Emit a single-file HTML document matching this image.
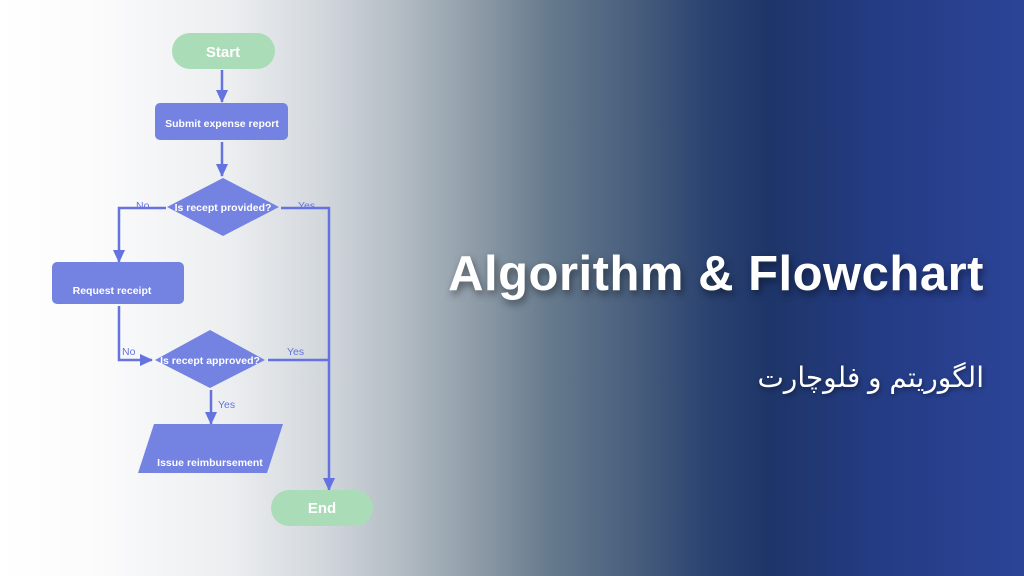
<!DOCTYPE html>
<html><head><meta charset="utf-8"><style>
html,body{margin:0;padding:0}
body{width:1024px;height:576px;overflow:hidden;position:relative;
background:linear-gradient(90deg,#ffffff 0px,#fbfbfc 100px,#eceef0 230px,#d3d8dd 320px,#b3bcc4 400px,#8c9aa6 480px,#667a8d 550px,#465c7b 640px,#2a4270 710px,#1e3569 770px,#243c84 880px,#2c4497 1024px);}
.t{position:absolute;left:0;top:0}
h1{position:absolute;right:40px;top:246px;margin:0;font:bold 49px "Liberation Sans",sans-serif;color:#fff;text-shadow:2px 4px 8px rgba(0,0,0,.45);letter-spacing:.5px}
.fa{position:absolute;right:40px;top:361px;font:500 28px "Liberation Sans","Noto Sans CJK SC","DejaVu Sans",sans-serif;color:#fff;direction:rtl;text-shadow:1px 2px 5px rgba(0,0,0,.4)}
</style></head><body>
<svg class="t" width="1024" height="576" viewBox="0 0 1024 576" font-family="Liberation Sans,sans-serif" font-weight="bold">
<defs><marker id="a" markerWidth="14" markerHeight="14" refX="12" refY="7" orient="auto" markerUnits="userSpaceOnUse"><path d="M0,1 L13,7 L0,13z" fill="#6473e0"/></marker></defs>
<g stroke="#6473e0" stroke-width="2.5" fill="none">
<line x1="222" y1="70" x2="222" y2="102" marker-end="url(#a)"/>
<line x1="222" y1="142" x2="222" y2="176" marker-end="url(#a)"/>
<polyline points="166,208 119,208 119,262" marker-end="url(#a)"/>
<polyline points="281,208 329,208 329,490" marker-end="url(#a)"/>
<polyline points="119,306 119,360 152,360" marker-end="url(#a)"/>
<line x1="268" y1="360" x2="329" y2="360"/>
<line x1="211" y1="390" x2="211" y2="424" marker-end="url(#a)"/>
</g>
<rect x="172" y="33" width="103" height="36" rx="18" fill="#aadcb8"/>
<text x="223" y="57" fill="#fff" font-size="15" text-anchor="middle">Start</text>
<rect x="155" y="103" width="133" height="37" rx="5" fill="#7482e2"/>
<text x="222" y="127" fill="#fff" font-size="10.5" text-anchor="middle">Submit expense report</text>
<polygon points="167,207 223,178 279,207 223,236" fill="#7482e2"/>
<text x="223" y="211" fill="#fff" font-size="10.5" text-anchor="middle">Is recept provided?</text>
<rect x="52" y="262" width="132" height="42" rx="5" fill="#7482e2"/>
<text x="112" y="295" fill="#fff" font-size="10.5" text-anchor="middle" dy="-1">Request receipt</text>
<polygon points="155,360 210,330 265,360 210,388" fill="#7482e2"/>
<text x="210" y="364" fill="#fff" font-size="10.5" text-anchor="middle">Is recept approved?</text>
<polygon points="154,424 283,424 267,473 138,473" fill="#7482e2"/>
<text x="210" y="467" fill="#fff" font-size="10.5" text-anchor="middle" dy="-1">Issue reimbursement</text>
<rect x="271" y="490" width="102" height="36" rx="18" fill="#aadcb8"/>
<text x="322" y="513" fill="#fff" font-size="15" text-anchor="middle">End</text>
<g fill="#6473e0" font-size="10.5" font-weight="normal">
<text x="136" y="209">No</text><text x="298" y="209">Yes</text>
<text x="122" y="355">No</text><text x="287" y="355">Yes</text>
<text x="218" y="408">Yes</text>
</g>
</svg>
<h1>Algorithm &amp; Flowchart</h1>
<div class="fa">الگوریتم و فلوچارت</div>
</body></html>
